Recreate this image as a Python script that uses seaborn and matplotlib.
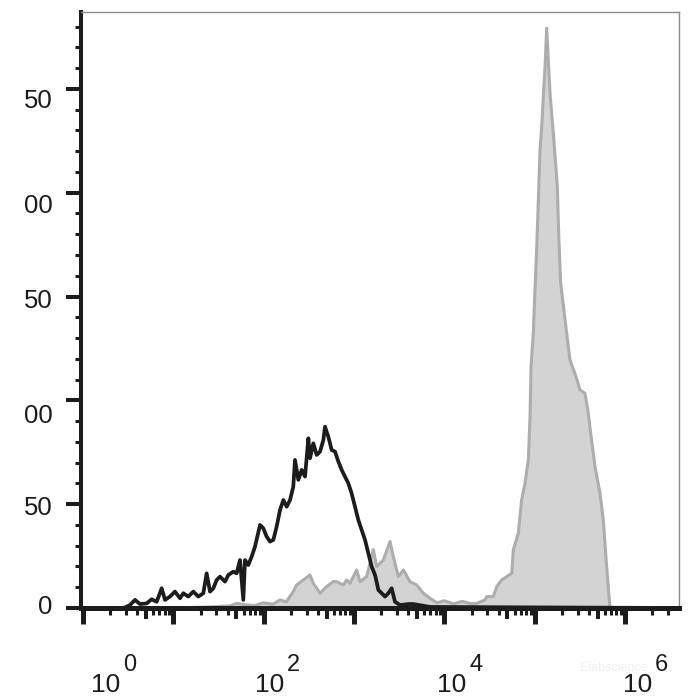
import numpy as np
import matplotlib
matplotlib.use("Agg")
import matplotlib.pyplot as plt
from matplotlib import font_manager
from matplotlib.ticker import FixedLocator, NullFormatter, NullLocator, MultipleLocator
from matplotlib.transforms import ScaledTranslation
import seaborn as sns

# isotype control (black line): log10 fluorescence -> count
ctrl_log = [0.0, 0.45, 0.520, 0.576, 0.631, 0.705, 0.760, 0.816, 0.871, 0.908,
            0.963, 1.018, 1.074, 1.111, 1.166, 1.221, 1.277, 1.332, 1.369, 1.406,
            1.443, 1.480, 1.517, 1.572, 1.609, 1.664, 1.701, 1.738, 1.775, 1.793,
            1.830, 1.867, 1.904, 1.960, 1.996, 2.033, 2.070, 2.107, 2.144, 2.181,
            2.218, 2.255, 2.292, 2.328, 2.347, 2.384, 2.421, 2.458, 2.495, 2.513,
            2.550, 2.587, 2.624, 2.661, 2.679, 2.716, 2.753, 2.790, 2.827, 2.864,
            2.900, 2.937, 2.974, 3.011, 3.048, 3.085, 3.122, 3.159, 3.196, 3.233,
            3.270, 3.307, 3.344, 3.380, 3.417, 3.454, 3.510, 3.602, 3.657, 3.841, 6.6]
ctrl_cnt = [0, 0, 1.4, 3.9, 1.9, 2.2, 4.2, 3.0, 9.5, 3.9,
            5.5, 7.9, 4.7, 7.1, 5.5, 7.9, 5.5, 7.1, 16.7, 7.9,
            9.5, 13.5, 15.1, 12.7, 15.9, 17.5, 16.7, 23.1, 3.9, 23.1,
            20.7, 24.7, 29.5, 40.0, 38.4, 34.4, 32.0, 32.8, 39.2, 47.2,
            52.0, 48.8, 52.0, 58.4, 71.3, 61.7, 66.5, 63.3, 81.7, 72.1,
            79.3, 73.7, 75.3, 80.9, 87.3, 82.5, 76.1, 75.3, 70.5, 66.5,
            63.3, 60.1, 55.2, 48.8, 42.4, 37.6, 32.8, 26.3, 19.9, 15.9,
            8.7, 7.1, 5.5, 7.1, 9.5, 3.0, 1.4, 1.9, 1.9, 0.5, 0]

# stained sample (grey filled histogram)
stain_log = [1.0, 1.4, 1.627, 1.70, 1.812, 1.90, 2.0, 2.10, 2.181, 2.25,
             2.328, 2.365, 2.439, 2.513, 2.550, 2.624, 2.698, 2.771, 2.808, 2.882,
             2.919, 2.956, 3.030, 3.067, 3.140, 3.214, 3.251, 3.325, 3.399, 3.436,
             3.491, 3.547, 3.620, 3.694, 3.768, 3.841, 3.92, 4.0, 4.1, 4.2,
             4.3, 4.358, 4.450, 4.469, 4.543, 4.580, 4.635, 4.691, 4.746, 4.764,
             4.819, 4.856, 4.893, 4.930, 4.949, 4.960, 4.985, 5.004, 5.022, 5.041,
             5.059, 5.078, 5.115, 5.133, 5.170, 5.207, 5.251, 5.266, 5.288, 5.310,
             5.355, 5.391, 5.458, 5.502, 5.557, 5.594, 5.620, 5.668, 5.723, 5.760,
             5.797, 5.834]
stain_cnt = [0, 0.5, 1.0, 2.2, 1.5, 1.2, 2.5, 1.8, 3.9, 3.0,
             7.9, 11.1, 13.5, 15.9, 11.9, 7.1, 10.3, 12.7, 12.7, 11.1,
             13.5, 11.9, 18.3, 12.7, 15.1, 28.1, 20.0, 23.1, 32.0, 24.7,
             15.1, 18.3, 12.7, 11.1, 7.1, 4.7, 2.5, 3.5, 2.0, 3.2,
             2.0, 2.2, 3.9, 5.5, 5.5, 10.3, 13.5, 15.1, 16.7, 27.9,
             36.0, 52.0, 60.1, 71.3, 92.2, 116.2, 132.3, 153.2, 172.4, 196.5,
             220.6, 231.8, 260.8, 279.2, 247.9, 228.6, 203.0, 180.5, 156.4, 148.4,
             132.3, 119.5, 111.4, 105.0, 103.4, 93.8, 84.2, 68.1, 55.2, 42.4,
             19.9, 0]

y_ticks = [0, 50, 100, 150, 200, 250]
y_labels = ["0", "50", "00", "50", "00", "50"]   # leading digits cut off in source
x_label_exps = [0, 2, 4, 6]

# label nudges in pixels (source image is slightly misaligned)
y_label_dy = [-4, 1, 13, 2, 11, 10]
x_label_dx = [8, -9, -7, -2]

sns.set_theme(style="ticks")
plt.rcParams["font.family"] = ["Liberation Sans", "DejaVu Sans"]

# the x labels in the source are tall and narrow
have_narrow = any(f.name == "Liberation Sans Narrow" for f in font_manager.fontManager.ttflist)
if have_narrow:
    xlab_family, base_size, exp_size = ["Liberation Sans Narrow"], 22, 19.5
else:
    xlab_family, base_size, exp_size = ["Liberation Sans"], 19, 17

fig = plt.figure(figsize=(7, 7), dpi=100)
ax = fig.add_axes([81 / 700, 92 / 700, 598 / 700, 596 / 700])
ax.set_xscale("log")

stain_x = 10.0 ** np.array(stain_log)
ctrl_x = 10.0 ** np.array(ctrl_log)

ax.fill_between(stain_x, stain_cnt, color="#d3d3d3", lw=0, zorder=1)
sns.lineplot(x=stain_x, y=stain_cnt, sort=False, estimator=None,
             color="#adadad", lw=2.2, ax=ax, zorder=2)
sns.lineplot(x=ctrl_x, y=ctrl_cnt, sort=False, estimator=None,
             color="#1c1c1c", lw=2.7, ax=ax, zorder=3)

ax.set_xlim(10 ** -0.022, 10 ** 6.598)
ax.set_ylim(0, 287)
ax.set_xlabel("")
ax.set_ylabel("")

for side in ["top", "right"]:
    ax.spines[side].set_color("#8a8a8a")
    ax.spines[side].set_linewidth(1.0)
ax.spines["left"].set_color("#1c1c1c")
ax.spines["left"].set_linewidth(2.9)
ax.spines["bottom"].set_color("#1c1c1c")
ax.spines["bottom"].set_linewidth(3.6)

# x ticks: decades long, 2..9 short, 5 medium (secondary axis)
decades = list(range(0, 7))
ax.xaxis.set_major_locator(FixedLocator([10.0 ** k for k in decades]))
ax.xaxis.set_minor_locator(FixedLocator([m * 10.0 ** k for k in decades
                                         for m in (2, 3, 4, 6, 7, 8, 9)]))
ax.xaxis.set_major_formatter(NullFormatter())
ax.xaxis.set_minor_formatter(NullFormatter())
ax.tick_params(axis="x", which="major", length=11.5, width=3.6, color="#1c1c1c")
ax.tick_params(axis="x", which="minor", length=5, width=2.2, color="#1c1c1c")

sec = ax.secondary_xaxis("bottom")
sec.xaxis.set_major_locator(FixedLocator([5 * 10.0 ** k for k in decades]))
sec.xaxis.set_minor_locator(NullLocator())
sec.xaxis.set_major_formatter(NullFormatter())
sec.tick_params(axis="x", length=8, width=2.9, color="#1c1c1c")
sec.spines["bottom"].set_visible(False)

# y ticks
ax.set_yticks(y_ticks, y_labels)
ax.yaxis.set_minor_locator(MultipleLocator(10))
ax.tick_params(axis="y", which="major", length=11, width=2.9, color="#1c1c1c",
               pad=9.4, labelsize=18.5, labelcolor="#1c1c1c")
ax.tick_params(axis="y", which="minor", length=4.3, width=2.2, color="#1c1c1c")
for lab, dy in zip(ax.get_yticklabels(), y_label_dy):
    lab.set_transform(lab.get_transform() + ScaledTranslation(0, -dy / 100, fig.dpi_scale_trans))

# x labels as 10 + exponent
for k, dx in zip(x_label_exps, x_label_dx):
    ax.annotate("10", xy=(10.0 ** k, 0), xycoords=("data", "axes fraction"),
                xytext=(dx, -84), textcoords="offset pixels", ha="left", va="baseline",
                fontsize=base_size, family=xlab_family, color="#1c1c1c",
                annotation_clip=False)
    ax.annotate(str(k), xy=(10.0 ** k, 0), xycoords=("data", "axes fraction"),
                xytext=(dx + 32, -63), textcoords="offset pixels", ha="left", va="baseline",
                fontsize=exp_size, family=xlab_family, color="#1c1c1c",
                annotation_clip=False)

fig.text(580 / 700, 1 - 671 / 700, "Elabscience", color="#f0f0f0", fontsize=9)

fig.savefig("out.png", dpi=100)
